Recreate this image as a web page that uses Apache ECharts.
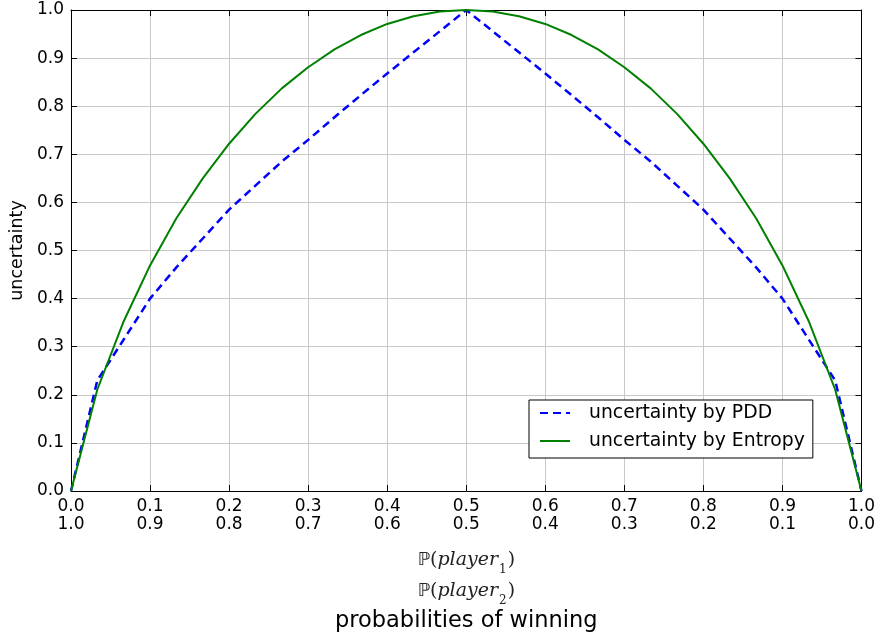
<!DOCTYPE html>
<html>
<head>
<meta charset="utf-8">
<script src="https://cdn.jsdelivr.net/npm/echarts@6/dist/echarts.min.js"></script>
<style>
  html, body { margin: 0; padding: 0; background: #ffffff; }
  #chart { width: 878px; height: 641px; }
</style>
</head>
<body>
<div id="chart"></div>
<script>
// Probability that player 1 wins (player 2 wins with the complement)
const probabilities = [
  0, 0.0333, 0.0667, 0.1, 0.1333, 0.1667, 0.2, 0.2333, 0.2667, 0.3,
  0.3333, 0.3667, 0.4, 0.4333, 0.4667, 0.5, 0.5333, 0.5667, 0.6, 0.6333,
  0.6667, 0.7, 0.7333, 0.7667, 0.8, 0.8333, 0.8667, 0.9, 0.9333, 0.9667, 1.0
];

// Uncertainty measured by PDD
const pddUncertainty = [
  0, 0.23, 0.315, 0.40, 0.465, 0.525, 0.585, 0.635, 0.685, 0.73,
  0.777, 0.823, 0.868, 0.912, 0.956, 1.0, 0.956, 0.912, 0.868, 0.823,
  0.777, 0.73, 0.685, 0.635, 0.585, 0.525, 0.465, 0.40, 0.315, 0.23, 0
];

// Uncertainty measured by entropy (bits)
const entropyUncertainty = [
  0, 0.211, 0.353, 0.469, 0.567, 0.650, 0.722, 0.784, 0.837, 0.881,
  0.918, 0.948, 0.971, 0.987, 0.997, 1.0, 0.997, 0.987, 0.971, 0.948,
  0.918, 0.881, 0.837, 0.784, 0.722, 0.650, 0.567, 0.469, 0.353, 0.211, 0
];

// Tick labels: P(player 1) on the first row, P(player 2) on the second
const xTicksPlayer1 = ['0.0','0.1','0.2','0.3','0.4','0.5','0.6','0.7','0.8','0.9','1.0'];
const xTicksPlayer2 = ['1.0','0.9','0.8','0.7','0.6','0.5','0.4','0.3','0.2','0.1','0.0'];
const yTicks = ['0.0','0.1','0.2','0.3','0.4','0.5','0.6','0.7','0.8','0.9','1.0'];

const seriesNames = ['uncertainty by PDD', 'uncertainty by Entropy'];

const FONT = 'DejaVu Sans';
const toPairs = (ys) => probabilities.map((p, i) => [p, ys[i]]);
const tickIndex = (v) => Math.round(v * 10);

const spine = { show: true, onZero: false, lineStyle: { color: '#000000', width: 1 } };
const innerTick = { show: true, inside: true, length: 6, lineStyle: { color: '#000000', width: 1 } };
const gridLine = { show: true, lineStyle: { color: '#c8c8c8', width: 1, type: 'solid' } };

const chart = echarts.init(document.getElementById('chart'), null, { renderer: 'canvas' });

chart.setOption({
  animation: false,
  backgroundColor: '#ffffff',
  grid: { left: 70, right: 16, top: 10, bottom: 150, containLabel: false },
  xAxis: [
    {
      type: 'value', position: 'bottom', min: 0, max: 1, interval: 0.1,
      axisLine: spine, axisTick: innerTick, splitLine: gridLine,
      axisLabel: {
        margin: 7, color: '#000000', fontFamily: FONT, fontSize: 17, lineHeight: 18,
        formatter: (v) => xTicksPlayer1[tickIndex(v)] + '\n' + xTicksPlayer2[tickIndex(v)]
      },
      name: '{bb|ℙ}{n|(}{it|player}{sub|1}{n|)}\n{bb|ℙ}{n|(}{it|player}{sub|2}{n|)}\n{t|probabilities of winning}',
      nameLocation: 'middle',
      nameGap: 54,
      nameTextStyle: {
        color: '#000000',
        rich: {
          bb: { fontFamily: 'DejaVu Sans', fontSize: 18, lineHeight: 31, color: '#222222' },
          n: { fontFamily: 'DejaVu Serif', fontSize: 19, lineHeight: 31, color: '#222222' },
          it: { fontFamily: 'DejaVu Serif', fontStyle: 'italic', fontSize: 19, lineHeight: 31, color: '#222222' },
          sub: { fontFamily: 'DejaVu Serif', fontSize: 12, lineHeight: 13, padding: [12, 1, 0, 1], verticalAlign: 'bottom', color: '#222222' },
          t: { fontFamily: FONT, fontSize: 22.5, lineHeight: 28, color: '#000000' }
        }
      }
    },
    {
      type: 'value', position: 'top', min: 0, max: 1, interval: 0.1,
      axisLine: spine, axisTick: innerTick, splitLine: { show: false },
      axisLabel: { show: false }
    }
  ],
  yAxis: [
    {
      type: 'value', position: 'left', min: 0, max: 1, interval: 0.1,
      axisLine: spine, axisTick: innerTick, splitLine: gridLine,
      axisLabel: {
        margin: 7, color: '#000000', fontFamily: FONT, fontSize: 17,
        formatter: (v) => yTicks[tickIndex(v)]
      },
      name: 'uncertainty',
      nameLocation: 'middle',
      nameGap: 45,
      nameTextStyle: { color: '#000000', fontFamily: FONT, fontSize: 17.5 }
    },
    {
      type: 'value', position: 'right', min: 0, max: 1, interval: 0.1,
      axisLine: spine, axisTick: innerTick, splitLine: { show: false },
      axisLabel: { show: false }
    }
  ],
  legend: {
    orient: 'vertical',
    left: 529, top: 400,
    padding: [3, 8, 7, 10],
    itemWidth: 30, itemHeight: 14, itemGap: 8,
    backgroundColor: '#ffffff',
    borderColor: '#000000', borderWidth: 1, borderRadius: 0,
    data: seriesNames,
    itemStyle: { color: 'rgba(0,0,0,0)', borderWidth: 0 },
    textStyle: { color: '#000000', fontFamily: FONT, fontSize: 18.8, lineHeight: 20, padding: [0, 0, 0, 14] }
  },
  series: [
    {
      name: seriesNames[0], type: 'line', xAxisIndex: 0, yAxisIndex: 0,
      data: toPairs(pddUncertainty),
      symbol: 'none', smooth: false,
      lineStyle: { color: '#0000ff', width: 2.5, type: [8, 5] },
      itemStyle: { color: '#0000ff' }
    },
    {
      name: seriesNames[1], type: 'line', xAxisIndex: 0, yAxisIndex: 0,
      data: toPairs(entropyUncertainty),
      symbol: 'none', smooth: false,
      lineStyle: { color: '#008000', width: 2 },
      itemStyle: { color: '#008000' }
    }
  ]
});
</script>
</body>
</html>
